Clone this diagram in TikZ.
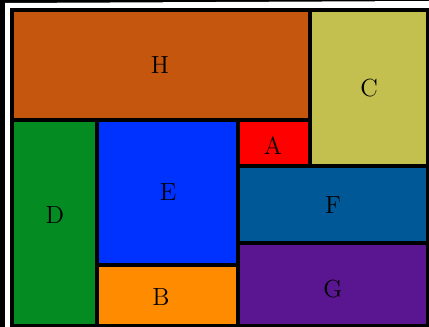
\documentclass[tikz,border=0pt]{standalone}
\usepackage{xcolor}
\usepackage{tikz}
\definecolor{colH}{RGB}{197,86,14}
\definecolor{colC}{RGB}{195,192,80}
\definecolor{colA}{RGB}{255,0,0}
\definecolor{colD}{RGB}{4,139,33}
\definecolor{colE}{RGB}{0,50,255}
\definecolor{colF}{RGB}{0,88,150}
\definecolor{colG}{RGB}{90,22,145}
\definecolor{colB}{RGB}{255,140,0}

\begin{document}
\begin{tikzpicture}[x=0.525pt, y=-0.525pt,
  box/.style={draw=black, line width=1.6pt, fill=#1},
  lbl/.style={font=\fontsize{13}{15}\selectfont, inner sep=0pt}
]
  % screen edge round the page
  \useasboundingbox (0,0) rectangle (429,327);
  \fill[black] (0,0) rectangle (429,327);
  \fill[white] (5,3) -- (429,1) -- (429,327) -- (5,327) -- cycle;

  % top row
  \draw[box=colH] (12,10) rectangle (310,120);
  \node[lbl] (H) at (160,65) {H};
  \draw[box=colC] (310,10) rectangle (428,166);
  \node[lbl] (C) at (369,88) {C};
  \draw[box=colA] (238,120) rectangle (310,166);
  \node[lbl] (A) at (273,146) {A};

  % left column
  \draw[box=colD] (12,120) rectangle (97,326);
  \node[lbl] (D) at (55,215) {D};
  \draw[box=colE] (97,120) rectangle (238,265);
  \node[lbl] (E) at (168,192) {E};
  \draw[box=colB] (97,265) rectangle (238,326);
  \node[lbl] (B) at (161,297) {B};

  % right column
  \draw[box=colF] (238,166) rectangle (428,243);
  \node[lbl] (F) at (333,205) {F};
  \draw[box=colG] (238,243) rectangle (428,326);
  \node[lbl] (G) at (333,289) {G};
\end{tikzpicture}
\end{document}
